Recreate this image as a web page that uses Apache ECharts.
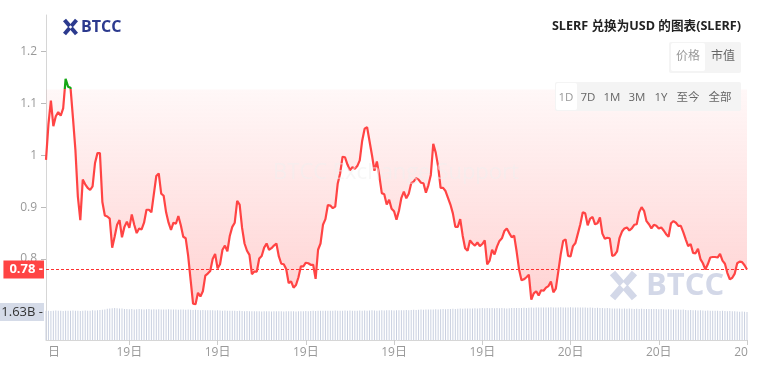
<!DOCTYPE html>
<html><head><meta charset="utf-8">
<script src="https://cdn.jsdelivr.net/npm/echarts@6.0.0/dist/echarts.min.js"></script>
<style>html,body{margin:0;padding:0;background:#fff;}#c{width:748px;height:376px;overflow:hidden;}</style>
</head><body><div id="c"></div>
<script>
// SLERF / USD price, 5-minute steps (1D view)
const price = [
0.991,1.060,1.105,1.056,1.075,1.083,1.076,1.090,1.147,1.132,
1.130,1.072,1.010,0.920,0.875,0.953,0.944,0.937,0.933,0.940,
0.985,1.004,1.004,0.910,0.884,0.882,0.878,0.822,0.843,0.866,
0.875,0.842,0.862,0.872,0.860,0.886,0.866,0.850,0.859,0.857,
0.870,0.895,0.895,0.890,0.925,0.960,0.965,0.926,0.922,0.890,
0.870,0.856,0.870,0.868,0.883,0.865,0.843,0.840,0.806,0.760,
0.714,0.713,0.735,0.728,0.738,0.768,0.772,0.777,0.800,0.810,
0.782,0.790,0.818,0.826,0.815,0.845,0.862,0.870,0.912,0.905,
0.860,0.830,0.816,0.808,0.771,0.776,0.776,0.801,0.806,0.822,
0.830,0.818,0.821,0.826,0.830,0.805,0.791,0.790,0.781,0.754,
0.757,0.745,0.750,0.765,0.786,0.786,0.793,0.792,0.789,0.789,
0.762,0.818,0.830,0.866,0.877,0.904,0.903,0.898,0.901,0.945,
0.965,0.997,0.996,0.982,0.971,0.977,0.974,0.979,0.990,1.028,
1.051,1.054,1.027,1.000,0.970,0.988,0.960,0.927,0.925,0.905,
0.914,0.897,0.892,0.876,0.893,0.918,0.930,0.917,0.926,0.946,
0.949,0.956,0.953,0.947,0.946,0.928,0.942,0.962,1.022,1.005,
0.978,0.937,0.937,0.931,0.918,0.905,0.888,0.862,0.862,0.877,
0.845,0.821,0.816,0.836,0.830,0.826,0.832,0.825,0.829,0.836,
0.790,0.797,0.818,0.809,0.824,0.835,0.840,0.854,0.859,0.850,
0.842,0.845,0.815,0.780,0.759,0.761,0.765,0.770,0.722,0.734,
0.738,0.730,0.740,0.739,0.745,0.748,0.757,0.736,0.743,0.776,
0.809,0.835,0.838,0.806,0.805,0.825,0.831,0.849,0.867,0.890,
0.888,0.865,0.878,0.881,0.867,0.869,0.880,0.849,0.839,0.841,
0.840,0.806,0.808,0.815,0.841,0.853,0.859,0.861,0.855,0.859,
0.866,0.867,0.890,0.900,0.893,0.873,0.867,0.859,0.866,0.864,
0.859,0.861,0.855,0.848,0.843,0.869,0.873,0.870,0.864,0.864,
0.852,0.838,0.825,0.829,0.812,0.811,0.820,0.800,0.792,0.780,
0.790,0.803,0.804,0.804,0.803,0.810,0.797,0.791,0.773,0.761,
0.764,0.772,0.792,0.795,0.794,0.788,0.780
];
// volume in billions
const volume = [
1.70,1.71,1.69,1.70,1.72,1.70,1.71,1.69,1.70,1.71,1.70,1.72,1.71,1.70,1.69,1.71,1.72,1.70,1.71,1.73,1.72,1.74,1.75,1.76,1.78,
1.82,1.84,1.85,1.86,1.85,1.84,1.83,1.81,1.80,
1.79,1.80,1.78,1.79,1.80,1.79,1.78,1.79,1.80,1.78,1.79,1.78,1.79,1.78,1.77,1.78,1.79,1.77,1.78,1.77,1.76,1.77,1.78,1.76,1.77,1.76,1.75,
1.76,1.75,1.74,1.75,1.74,1.73,1.74,1.73,1.72,1.73,1.72,1.71,1.72,1.71,1.70,1.71,1.70,1.69,1.70,1.69,1.68,1.69,1.68,1.68,
1.67,1.68,1.67,1.66,1.67,1.68,1.67,1.66,1.67,1.67,1.68,1.67,1.66,1.67,1.68,1.67,1.67,1.66,1.67,1.68,1.68,1.69,1.68,1.69,1.70,1.69,1.70,1.70,1.71,1.70,1.71,
1.70,1.71,1.72,1.71,1.70,1.71,1.72,1.71,1.72,1.71,1.70,1.71,1.72,1.71,1.72,1.71,1.72,1.73,1.72,1.71,1.72,1.73,1.72,1.73,1.74,1.73,1.72,1.73,1.74,1.73,1.74,1.75,1.74,1.75,1.76,1.75,1.76,1.77,1.76,1.77,1.78,1.77,1.78,1.79,1.78,1.79,1.80,1.79,1.80,1.81,
1.82,1.81,1.82,1.83,1.82,1.83,1.84,1.83,1.84,1.85,1.84,1.85,1.86,1.85,1.86,1.85,1.86,1.85,1.86,1.85,1.86,1.85,1.84,1.85,1.86,
1.86,1.87,1.86,1.87,1.88,1.87,1.88,1.89,1.88,1.89,1.90,1.89,1.90,1.89,1.90,1.91,1.90,1.89,1.90,1.91,1.90,1.89,1.90,1.91,1.90,1.89,1.90,1.89,1.90,1.89,1.88,1.89,1.88,1.87,1.88,1.87,1.86,1.85,1.86,1.85,
1.84,1.83,1.84,1.83,1.82,1.83,1.82,1.83,1.82,1.81,1.82,1.81,1.82,1.81,1.80,1.81,1.80,1.81,1.80,1.79,1.80,1.79,1.78,1.79,1.78,1.77,1.78,1.77,1.76,1.77,
1.75,1.74,1.75,1.74,1.73,1.72,1.73,1.72,1.71,1.72,1.71,1.70,1.71,1.70,1.69,1.70,1.69,1.68,1.69,1.68,1.67,1.66,1.65,1.66,1.64,1.63
];
const categories = price.map((_, i) => String(i));
const xTickIndex = [34, 70, 106, 142, 178, 214, 250, 286];
const xTickLabels = ['19日', '19日', '19日', '19日', '19日', '20日', '20日', '20日'];
const yTicks = [0.8, 0.9, 1.0, 1.1, 1.2];
const baseline = 1.127;
const lastPrice = price[price.length - 1];
const lastVolume = volume[volume.length - 1];
const rangeButtons = [['1D', 566], ['7D', 588], ['1M', 612], ['3M', 637], ['1Y', 661], ['至今', 688], ['全部', 720]];

const FONT = "'Open Sans','Noto Sans CJK SC',sans-serif";
const labelMap = {};
xTickIndex.forEach((k, j) => labelMap[k] = xTickLabels[j]);
const isTick = (i) => labelMap[i] !== undefined;

// price grid geometry
const yMin = 0.7, yMax = 1.27, gTop = 15, gBottom = 311;
const areaTop = gTop + (yMax - baseline) / (yMax - yMin) * (gBottom - gTop);
const RED = '#ff4444';

function icon(cx, cy, w, h, lw, color, z) {
  return [
    {type:'line', z:z, shape:{x1:cx-w, y1:cy-h, x2:cx+w, y2:cy+h}, style:{stroke:color, lineWidth:lw}},
    {type:'line', z:z, shape:{x1:cx+w, y1:cy-h, x2:cx-w, y2:cy+h}, style:{stroke:color, lineWidth:lw}},
    {type:'polygon', z:z, shape:{points:[[cx, cy-lw*0.45],[cx+lw*0.45, cy],[cx, cy+lw*0.45],[cx-lw*0.45, cy]]}, style:{fill:'#fff'}}
  ];
}

const staticGraphics = [].concat(
  icon(70.5, 27, 6, 7, 4, '#2c3a8e', 20),
  [{type:'text', z:20, x:81, y:27, style:{text:'BTCC', fill:'#2c3a8e', fontSize:16, fontWeight:'bold', fontFamily:FONT, verticalAlign:'middle'}}],
  icon(623.5, 285.5, 11, 12.5, 7, '#d3d8e8', 1),
  [{type:'text', z:1, x:646, y:286, style:{text:'BTCC', fill:'#d3d8e8', fontSize:31, fontWeight:'bold', fontFamily:FONT, verticalAlign:'middle'}}],
  [{type:'text', z:20, x:396, y:173, style:{text:'BTCC Exchange Support', fill:'rgba(240,240,240,0.5)', fontSize:22, fontFamily:FONT, align:'center', verticalAlign:'middle'}}],
  [{type:'text', z:20, x:741, y:26, style:{text:'SLERF 兑换为USD 的图表(SLERF)', fill:'#222', fontSize:12.6, fontWeight:'bold', fontFamily:FONT, align:'right', verticalAlign:'middle'}}],
  [{type:'rect', z:20, shape:{x:669, y:42, width:72, height:31, r:2}, style:{fill:'#f4f4f4'}},
   {type:'rect', z:21, shape:{x:671, y:43, width:34, height:28, r:2}, style:{fill:'#fff'}},
   {type:'text', z:22, x:688, y:57, style:{text:'价格', fill:'#999', fontSize:12, fontFamily:FONT, align:'center', verticalAlign:'middle'}},
   {type:'text', z:22, x:723, y:57, style:{text:'市值', fill:'#666', fontSize:12, fontFamily:FONT, align:'center', verticalAlign:'middle'}},
   {type:'rect', z:20, shape:{x:555, y:82, width:186, height:29, r:2}, style:{fill:'#f4f4f4'}},
   {type:'rect', z:21, shape:{x:556, y:83, width:21, height:27, r:2}, style:{fill:'#fff'}}],
  rangeButtons.map((b, j) => ({type:'text', z:22, x:b[1], y:98, style:{text:b[0], fill: j === 0 ? '#999' : '#666', fontSize:11.5, fontFamily:FONT, align:'center', verticalAlign:'middle'}})),
  [{type:'text', z:20, x:48, y:353, style:{text:'日', fill:'#999', fontSize:12, fontFamily:FONT, verticalAlign:'middle'}}]
);

const chart = echarts.init(document.getElementById('c'), null, {renderer:'canvas'});
chart.setOption({
  animation: false,
  textStyle: {fontFamily: FONT},
  grid: [
    {left:46, right:1, top:gTop, height:gBottom - gTop, outerBoundsMode:'none'},
    {left:46, right:1, top:300, height:40, outerBoundsMode:'none'},
    {left:46, right:1, top:areaTop, height:gBottom - areaTop, outerBoundsMode:'none'}
  ],
  xAxis: [
    {type:'category', gridIndex:0, data:categories, boundaryGap:false, show:false},
    {type:'category', gridIndex:1, data:categories, boundaryGap:false,
      axisLine:{lineStyle:{color:'#d6d6d6'}},
      axisTick:{show:true, length:5, interval:(i) => isTick(i), lineStyle:{color:'#ccc'}},
      axisLabel:{interval:(i) => isTick(i), formatter:(v, i) => labelMap[i] || '', color:'#999', fontSize:12, margin:7}
    },
    {type:'category', gridIndex:2, data:categories, boundaryGap:false, show:false}
  ],
  yAxis: [
    {type:'value', gridIndex:0, min:yMin, max:yMax, interval:0.1, splitLine:{show:false},
      axisLine:{show:true, lineStyle:{color:'#d6d6d6'}},
      axisTick:{show:true, length:5, lineStyle:{color:'#bbb'}},
      axisLabel:{color:'#999', fontSize:12, margin:9, showMinLabel:false, showMaxLabel:false,
        formatter:(v) => yTicks.some(t => Math.abs(t - v) < 1e-6) ? String(+v.toFixed(1)) : ''}},
    {type:'value', gridIndex:1, min:0, max:2.33, splitLine:{show:false},
      axisLine:{show:true, lineStyle:{color:'#d6d6d6'}}, axisTick:{show:false}, axisLabel:{show:false}},
    {type:'value', gridIndex:2, min:yMin, max:baseline, show:false, splitLine:{show:false}}
  ],
  visualMap: {show:false, type:'piecewise', seriesIndex:0, dimension:1,
    pieces:[{min:baseline, max:5, color:'#16a816'}, {min:0, max:baseline, color:RED}]},
  series: [
    {type:'line', xAxisIndex:0, yAxisIndex:0, data:price, symbol:'none', showSymbol:false, z:5,
      lineStyle:{width:2.2}},
    {type:'line', xAxisIndex:2, yAxisIndex:2, data:price, symbol:'none', showSymbol:false, z:3, clip:true,
      color:RED, lineStyle:{width:0, opacity:0},
      areaStyle:{origin:'end', opacity:1, color:new echarts.graphic.LinearGradient(0, 0, 0, 1, [
        {offset:0, color:'rgba(255,77,77,0.03)'}, {offset:1, color:'rgba(255,77,77,0.25)'}])}
    },
    {type:'bar', xAxisIndex:1, yAxisIndex:1, data:volume, barWidth:1, itemStyle:{color:'#c9d0e0'}}
  ],
  graphic: staticGraphics
});

// last-value reference line and axis value boxes, placed with the axes' own scales
const yP = Math.round(chart.convertToPixel({yAxisIndex:0}, lastPrice)) + 0.5;
const yV = chart.convertToPixel({yAxisIndex:1}, lastVolume);
const xL = chart.convertToPixel({xAxisIndex:0}, 0);
const xR = chart.convertToPixel({xAxisIndex:0}, price.length - 1);
chart.setOption({
  graphic: staticGraphics.concat([
    {type:'line', z:4, shape:{x1:xL, y1:yP, x2:xR, y2:yP}, style:{stroke:'#ff3030', lineWidth:1, lineDash:[3,2]}},
    {type:'text', z:30, x:44, y:yP, style:{text:lastPrice.toFixed(2) + ' -', fill:'#fff', fontSize:13, fontWeight:'bold', fontFamily:FONT,
      align:'right', verticalAlign:'middle', backgroundColor:RED, padding:[2,1,2,6], lineHeight:14}},
    {type:'text', z:30, x:44, y:yV, style:{text:lastVolume.toFixed(2) + 'B -', fill:'#333', fontSize:13, fontFamily:FONT,
      align:'right', verticalAlign:'middle', backgroundColor:'#d5dbe8', padding:[2,1,2,5], lineHeight:14}}
  ])
});
</script></body></html>
